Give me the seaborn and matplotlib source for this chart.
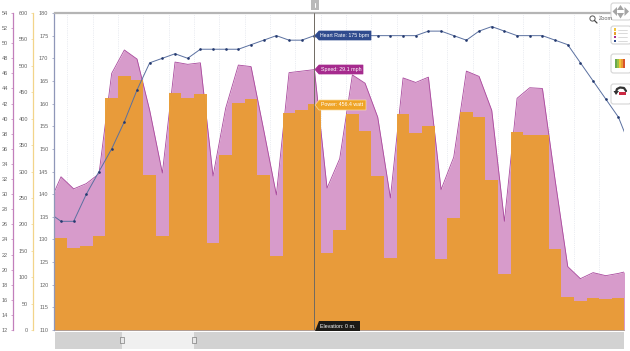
import matplotlib
matplotlib.use("Agg")
import pandas as pd
import seaborn as sns
from matplotlib import pyplot as plt
from matplotlib.patches import Circle, FancyBboxPatch, Polygon, Rectangle

# values, the first sample sits just left of the plot edge
heart_rate = [136, 134, 134, 140, 145, 150, 156, 163, 169, 170, 171, 170, 172, 172, 172, 172,
              173, 174, 175, 174, 174, 175, 175, 175, 175, 175, 175, 175, 175, 175, 176, 176,
              175, 174, 176, 177, 176, 175, 175, 175, 174, 173, 169, 165, 161, 157, 150]
speed = [28.5, 32.3, 30.7, 31.4, 32.7, 46.0, 49.1, 47.9, 41.1, 32.8, 47.5, 47.2, 47.4, 32.4, 41.4, 47.1,
         46.9, 38.5, 29.9, 46.1, 46.3, 46.5, 30.8, 34.7, 45.8, 44.7, 40.2, 29.5, 45.4, 44.8, 45.5, 30.6,
         34.9, 46.3, 45.6, 41.1, 26.4, 42.7, 44.1, 44.0, 31.9, 20.4, 18.8, 19.6, 19.2, 19.5, 19.9]
power = [175, 174, 156, 159, 178, 440, 480, 473, 293, 178, 448, 439, 446, 165, 331, 429,
         438, 293, 140, 410, 417, 427, 146, 190, 408, 377, 291, 136, 409, 372, 386, 134,
         212, 413, 403, 284, 106, 375, 369, 369, 153, 63, 55, 61, 58, 60, 60]
samples = list(range(len(power)))

distance_ticks = [6, 12, 18, 24, 30, 36, 42]
distance_labels = ["2.8", "3.3", "3.7", "4.2", "4.6", "5.1", "5.4"]
speed_ticks = list(range(12, 55, 2))
power_ticks = list(range(0, 601, 50))
hr_ticks = list(range(110, 181, 5))
cursor = 21
handles = [5.8, 11.5]

SPEED_FILL = "#d79bcb"
SPEED_LINE = "#a9499d"
POWER_COLOR = "#e99c35"
HR_COLOR = "#5a70a0"
HR_MARKER = "#24396e"
TEXT_COLOR = "#666666"

sns.set_theme(style="white")
plt.rcParams["font.family"] = ["Liberation Sans", "DejaVu Sans"]
plt.rcParams["font.size"] = 4

W, H = 630, 351
df = pd.DataFrame({"sample": samples, "heart_rate": heart_rate, "speed": speed, "power": power})

fig = plt.figure(figsize=(W / 100, H / 100), dpi=100)
rect = [55 / W, 1 - 330 / H, 569 / W, 317 / H]
x_limits = (0.526, 45.44)

ax_speed = fig.add_axes(rect)
ax_power = ax_speed.twinx()
ax_hr = ax_speed.twinx()
ax_speed.set_zorder(1)
ax_power.set_zorder(2)
ax_hr.set_zorder(3)
for ax in (ax_power, ax_hr):
    ax.patch.set_visible(False)

# speed area at the back
for boundary in range(1, 46, 2):
    ax_speed.axvline(boundary + 0.5, color="#d8dce6", lw=0.5, ls=":", zorder=0)
ax_speed.fill_between(df["sample"], df["speed"], 12, color=SPEED_FILL, lw=0, zorder=1)
sns.lineplot(data=df, x="sample", y="speed", ax=ax_speed, color=SPEED_LINE, lw=0.6, zorder=2)

sns.barplot(data=df, x="sample", y="power", ax=ax_power, color=POWER_COLOR, width=1,
            saturation=1, linewidth=0, alpha=0.97)

sns.lineplot(data=df, x="sample", y="heart_rate", ax=ax_hr, color=HR_COLOR, lw=0.7,
             marker="o", markersize=1.9, markerfacecolor=HR_MARKER, markeredgecolor=HR_MARKER,
             markeredgewidth=0)

axis_setup = [
    (ax_speed, speed_ticks, (12, 54), 41.7, "#c27fbb"),
    (ax_power, power_ticks, (0, 600), 21.7, "#f2d48a"),
    (ax_hr, hr_ticks, (110, 180), 1.5, "#8f97b8"),
]
for ax, ticks, limits, outward, color in axis_setup:
    ax.set_xlim(*x_limits)
    ax.set_ylim(*limits)
    ax.set_xlabel("")
    ax.set_ylabel("")
    for side in ("top", "right", "bottom", "left"):
        ax.spines[side].set_visible(False)
    ax.yaxis.set_ticks_position("left")
    ax.yaxis.set_label_position("left")
    ax.spines["left"].set_visible(True)
    ax.spines["left"].set_position(("outward", outward * 0.72))
    ax.spines["left"].set_color(color)
    ax.spines["left"].set_linewidth(0.9)
    ax.set_yticks(ticks)
    ax.set_yticklabels([str(t) for t in ticks])
    ax.tick_params(axis="y", left=True, length=1.7, width=0.5, color=color, labelcolor=TEXT_COLOR,
                   labelsize=4, pad=2, labelleft=True, labelright=False, right=False)
    ax.tick_params(axis="x", bottom=False, labelbottom=False)

# distance axis runs along the top edge
ax_hr.spines["top"].set_visible(True)
ax_hr.spines["top"].set_color("#b5b5b5")
ax_hr.spines["top"].set_linewidth(1.6)
ax_hr.spines["bottom"].set_visible(True)
ax_hr.spines["bottom"].set_color("#9a8a70")
ax_hr.spines["bottom"].set_linewidth(0.5)
ax_hr.xaxis.set_ticks_position("top")
ax_hr.set_xticks(distance_ticks)
ax_hr.set_xticklabels(distance_labels)
ax_hr.tick_params(axis="x", top=True, labeltop=True, bottom=False, labelbottom=False, length=2,
                  width=0.5, color="#777777", labelcolor=TEXT_COLOR, labelsize=4, pad=1.5)

ax_hr.axvline(cursor, color="#6f6a62", lw=0.7, zorder=5)

# everything else is page furniture, laid out in pixels
over = fig.add_axes([0, 0, 1, 1], zorder=10)
over.set_xlim(0, W)
over.set_ylim(H, 0)
over.axis("off")
over.patch.set_visible(False)


def callout(left, right, top, bottom, color, label, edge=None):
    mid = (top + bottom) / 2
    points = [(left, mid), (left + 4, top), (right, top), (right, bottom), (left + 4, bottom)]
    over.add_patch(Polygon(points, closed=True, facecolor=color, edgecolor=edge or color, lw=0.5))
    over.text((left + 4 + right) / 2, mid, label, color="white", fontsize=3.8, ha="center", va="center")


def button(top, bottom):
    over.add_patch(FancyBboxPatch((611, top), 20, bottom - top, boxstyle="round,pad=0,rounding_size=2.5",
                                  facecolor="white", edgecolor="#d5d5d5", lw=0.8))


callout(315, 371, 31, 40, "#2f4b8e", "Heart Rate: 175 bpm")
callout(315, 363, 65, 74, "#a62b8e", "Speed: 29.1 mph")
callout(315, 366, 100, 110, "#efa426", "Power: 456.4 watt", edge="#f8dca0")
over.add_patch(Polygon([(315, 331), (319, 321), (360, 321), (360, 331)], closed=True,
                       facecolor="#1c1a16", edgecolor="none"))
over.text(338, 326, "Elevation: 0 m.", color="white", fontsize=3.8, ha="center", va="center")

# cursor tab
over.add_patch(Rectangle((310.5, 0), 8, 10, facecolor="#b9b9b9", edgecolor="none"))
over.plot([314.5, 314.5], [3, 7], color="white", lw=0.7)

# range navigator below the plot, same x scale as the chart
nav = fig.add_axes([55 / W, 1 - 349 / H, 569 / W, 17 / H], zorder=9)
nav.set_xlim(*x_limits)
nav.set_ylim(0, 1)
nav.axis("off")
nav.axvspan(x_limits[0], x_limits[1], color="#d2d2d2", lw=0)
nav.axvspan(handles[0], handles[1], color="#f0f0f0", lw=0)
for handle in handles:
    nav.add_patch(Rectangle((handle - 0.14, 0.33), 0.28, 0.36, facecolor="#e8e8e8",
                            edgecolor="#666666", lw=0.4))

# zoom hint and tool buttons at the right edge
over.add_patch(Circle((592.5, 18.5), 2.6, facecolor="white", edgecolor="#555555", lw=0.7))
over.plot([594.5, 597], [20.5, 23], color="#444444", lw=0.9)
over.text(599, 19, "Zoom", color=TEXT_COLOR, fontsize=4, ha="left", va="center")

button(3, 20)
for tri in ([(620.5, 5), (617, 10), (624, 10)], [(620.5, 18.5), (617, 13), (624, 13)],
            [(612.5, 11.5), (617, 7), (617, 16)], [(629, 11.5), (624.5, 7), (624.5, 16)]):
    over.add_patch(Polygon(tri, closed=True, facecolor="#a5a5a5", edgecolor="none"))

button(26, 44)
for k, color in enumerate(["#f2c438", "#e8a030", "#a62b8e", "#2f4b8e"]):
    y = 29.5 + k * 3.8
    over.add_patch(Rectangle((613.5, y - 1.2), 2.4, 2.4, facecolor=color, edgecolor="none"))
    over.plot([617.5, 627], [y, y], color="#cccccc", lw=0.5)

button(54, 73)
for k, color in enumerate(["#6aa84f", "#9cc243", "#f2c438", "#e99c35", "#d9532c"]):
    over.add_patch(Rectangle((615 + k * 1.9, 59), 1.9, 9, facecolor=color, edgecolor="none"))

button(84, 104)
over.plot([616, 617, 620, 624, 626], [92, 89, 87.5, 88, 91], color="#333333", lw=1.6, solid_capstyle="round")
over.add_patch(Polygon([(613.5, 91), (619, 91), (616, 95)], closed=True, facecolor="#333333", edgecolor="none"))
over.add_patch(Rectangle((619, 92), 7, 3, facecolor="#cc2a44", edgecolor="none"))

fig.savefig("out.png", dpi=100)
